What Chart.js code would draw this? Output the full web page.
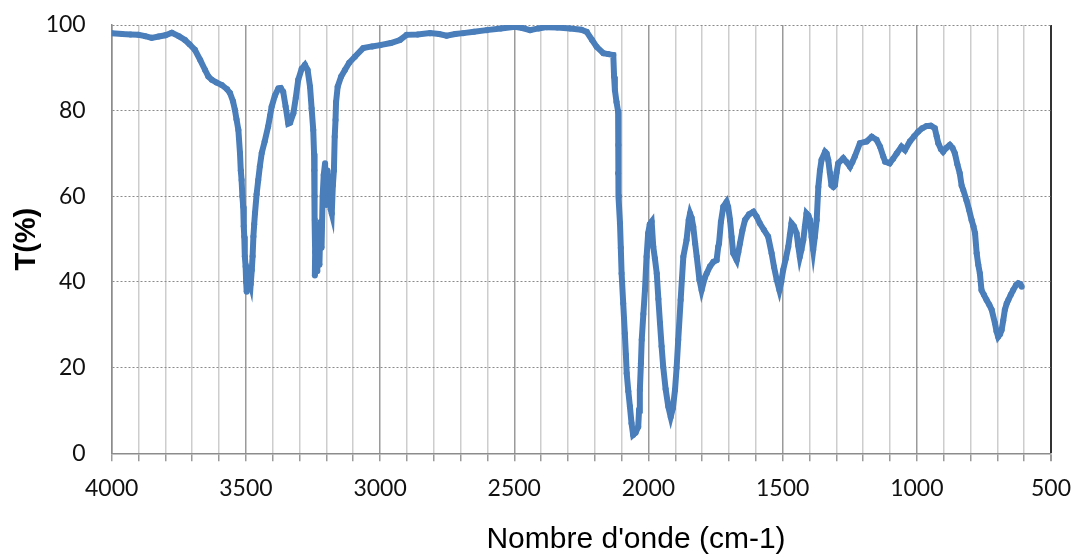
<!DOCTYPE html>
<html>
<head>
<meta charset="utf-8">
<script src="https://cdn.jsdelivr.net/npm/chart.js@4/dist/chart.umd.min.js"></script>
<style>
  html, body { margin: 0; padding: 0; background: #fff; }
  #wrap { width: 1075px; height: 554px; position: relative; }
</style>
</head>
<body>
<div id="wrap"><canvas id="c" width="1075" height="554"></canvas></div>
<script>
// Wavenumber (cm-1)
const wavenumbers = [
  4000,3960,3930,3901,3875,3851,3825,3800,3776,3750,3727,3710,3690,3670,3652,3640,3627,3610,3590,3570,
  3559,3548,3541,3535,3528,3522,3519,3516,3513,3510,3508,3506,3504,3501,3499,3497,3493,3488,3482,3478,
  3475,3472,3469,3466,3460,3454,3448,3441,3430,3417,3410,3404,3392,3379,3370,3361,3352,3342,3335,3323,
  3314,3305,3292,3280,3270,3261,3255,3249,3246,3245,3244,3243,3242,3243,3238,3234,3230,3226,3222,3218,
  3214,3210,3205,3200,3196,3192,3188,3184,3180,3176,3172,3169,3166,3164,3158,3145,3131,3115,3094,3063,
  3030,3000,2960,2926,2901,2860,2814,2780,2752,2720,2690,2650,2603,2550,2497,2470,2441,2410,2379,2340,
  2292,2250,2230,2210,2193,2168,2150,2131,2128,2125,2119,2113,2112,2113,2110,2106,2103,2100,2094,2088,
  2084,2081,2075,2069,2063,2057,2048,2038,2035,2032,2028,2025,2019,2013,2007,2001,1995,1988,1982,1976,
  1969,1963,1957,1951,1945,1936,1926,1917,1909,1901,1895,1889,1880,1870,1858,1850,1845,1839,1833,1826,
  1820,1810,1802,1790,1783,1771,1758,1746,1740,1737,1730,1721,1709,1703,1696,1690,1684,1671,1665,1659,
  1650,1640,1625,1609,1597,1585,1570,1554,1541,1532,1522,1512,1505,1498,1488,1479,1473,1467,1458,1448,
  1442,1436,1430,1423,1417,1411,1404,1398,1392,1386,1380,1373,1367,1361,1355,1342,1336,1330,1324,1318,
  1311,1305,1299,1293,1274,1262,1249,1240,1231,1212,1187,1168,1150,1137,1125,1118,1101,1088,1075,1057,
  1044,1026,1010,995,980,964,948,933,926,920,910,902,890,877,867,858,849,840,833,827,
  815,805,796,789,783,777,771,765,759,750,740,730,721,709,703,697,690,684,678,672,
  665,659,650,641,630,622,615,609
];
// Transmittance T (%)
const transmittance = [
  98.1,97.9,97.8,97.7,97.4,97.0,97.3,97.6,98.2,97.4,96.5,95.5,94.2,91.8,89.5,88.0,87.2,86.6,86.0,85.0,
  84.1,82.2,80.2,78.0,75.5,70.1,66.0,63.8,60.0,57.6,53.0,50.6,46.0,43.6,40.0,37.7,39.0,41.0,39.5,42.8,
  46.0,50.6,53.5,56.1,60.5,63.8,67.0,70.1,72.8,76.3,78.8,80.9,83.5,85.2,85.3,84.4,81.0,77.0,77.2,79.4,
  83.0,87.2,89.8,90.7,89.5,85.6,80.5,75.5,70.0,66.1,60.0,54.5,47.0,41.5,50.0,42.5,52.0,44.0,54.0,48.0,
  60.0,65.0,67.7,58.0,66.0,60.0,64.5,57.0,56.0,62.5,66.0,73.9,77.8,82.0,85.6,88.0,89.5,91.2,92.6,94.6,
  95.0,95.3,95.8,96.5,97.7,97.8,98.1,97.9,97.5,97.9,98.1,98.4,98.8,99.2,99.6,99.3,98.8,99.2,99.5,99.4,
  99.2,98.9,98.4,96.5,94.9,93.4,93.2,93.0,88.0,84.8,82.0,79.8,72.0,65.4,60.0,53.7,48.0,42.0,35.0,28.0,
  23.0,18.7,14.5,10.9,7.0,4.3,4.8,6.2,10.0,14.8,21.0,26.5,32.5,38.1,45.9,51.4,53.5,54.1,48.2,45.5,
  42.0,36.0,30.4,25.0,20.2,15.0,10.9,8.5,10.5,14.8,20.0,26.5,35.8,45.9,49.8,54.5,56.0,55.0,52.9,49.0,
  45.9,40.5,38.1,41.0,42.0,43.6,44.7,45.1,48.2,49.0,54.0,57.6,58.7,57.5,54.5,50.5,46.7,45.1,47.0,49.0,
  52.0,54.5,55.8,56.4,55.3,53.7,52.2,50.6,46.7,43.5,40.5,38.1,40.0,42.8,45.5,48.2,51.0,53.7,53.0,51.4,
  48.5,45.9,47.5,49.8,53.0,56.0,55.5,54.5,50.5,47.5,50.5,54.5,62.2,66.0,68.5,70.4,70.0,68.5,65.5,62.6,
  62.2,62.6,65.5,67.7,68.9,68.0,66.9,68.0,69.3,72.4,72.8,73.9,73.2,71.6,69.3,68.1,67.7,68.8,70.0,71.6,
  70.8,72.8,74.0,75.1,75.9,76.4,76.5,75.9,74.0,72.4,71.0,70.4,71.3,72.0,71.3,70.0,67.5,65.4,62.5,61.5,
  59.1,56.8,54.5,53.0,51.4,46.7,44.0,42.0,38.1,37.0,35.8,34.7,33.5,30.4,28.5,27.2,27.8,28.8,31.0,33.5,
  35.0,35.8,37.0,38.1,39.3,39.7,39.5,38.9
];
const xTickLabels = [4000, 3500, 3000, 2500, 2000, 1500, 1000, 500];
const yTickLabels = [0, 20, 40, 60, 80, 100];
const xTitle = "Nombre d'onde (cm-1)";
const yTitle = "T(%)";

const points = wavenumbers.map((w, i) => ({ x: w, y: transmittance[i] }));
const blue = '#4a7ebb';

const xTitlePlugin = {
  id: 'xTitlePlugin',
  afterDraw(chart) {
    const ctx = chart.ctx;
    ctx.save();
    ctx.font = '30px "Liberation Sans", Arial, sans-serif';
    ctx.fillStyle = '#000';
    ctx.textAlign = 'center';
    ctx.textBaseline = 'alphabetic';
    ctx.fillText(xTitle, 636, 548);
    ctx.restore();
  }
};

new Chart(document.getElementById('c'), {
  type: 'scatter',
  data: {
    datasets: [{
      data: points,
      showLine: true,
      borderColor: blue,
      borderWidth: 6,
      backgroundColor: blue,
      pointRadius: 3,
      pointBorderWidth: 0,
      pointBackgroundColor: blue,
      tension: 0
    }]
  },
  options: {
    responsive: false,
    animation: false,
    events: [],
    layout: { padding: { top: 25, right: 24, bottom: 0, left: 0 } },
    plugins: { legend: { display: false }, tooltip: { enabled: false } },
    scales: {
      x: {
        type: 'linear',
        reverse: true,
        min: 500,
        max: 4000,
        afterFit(scale) { scale.height = 100.7; },
        ticks: {
          stepSize: 100,
          autoSkip: false,
          maxRotation: 0,
          minRotation: 0,
          padding: 0,
          color: '#111',
          font: { family: 'Lato, "Open Sans", sans-serif', size: 23, lineHeight: 2.4 },
          callback: (v) => xTickLabels.includes(v) ? String(v) : ''
        },
        grid: {
          drawTicks: true,
          tickLength: 8,
          lineWidth: (ctx) => (ctx.tick && ctx.tick.value === 500) ? 2 : 1.5,
          color: (ctx) => {
            const v = ctx.tick ? ctx.tick.value : 0;
            if (v === 500) return '#333';
            return (v % 500 === 0) ? '#9a9a9a' : '#cdcdcd';
          },
          tickColor: '#9a9a9a'
        },
        border: { display: true, color: '#8c8c8c', width: 1.5 },
        title: { display: false }
      },
      y: {
        min: 0,
        max: 100,
        afterFit(scale) { scale.width = 111.7; },
        ticks: {
          stepSize: 20,
          padding: 0,
          color: '#111',
          font: { family: 'Lato, "Open Sans", sans-serif', size: 23 },
          callback: (v) => yTickLabels.includes(v) ? String(v) : ''
        },
        grid: {
          drawTicks: true,
          tickLength: 26,
          tickColor: 'rgba(0,0,0,0)',
          color: '#8a8a8a',
          lineWidth: 1
        },
        border: { display: true, color: '#8c8c8c', width: 1.5, dash: [2, 2] },
        title: {
          display: true,
          text: yTitle,
          color: '#000',
          padding: { top: 10, bottom: 0 },
          font: { family: '"Liberation Sans", Arial, sans-serif', size: 29, weight: 'bold', lineHeight: 1.2 }
        }
      }
    }
  },
  plugins: [xTitlePlugin]
});
</script>
</body>
</html>
